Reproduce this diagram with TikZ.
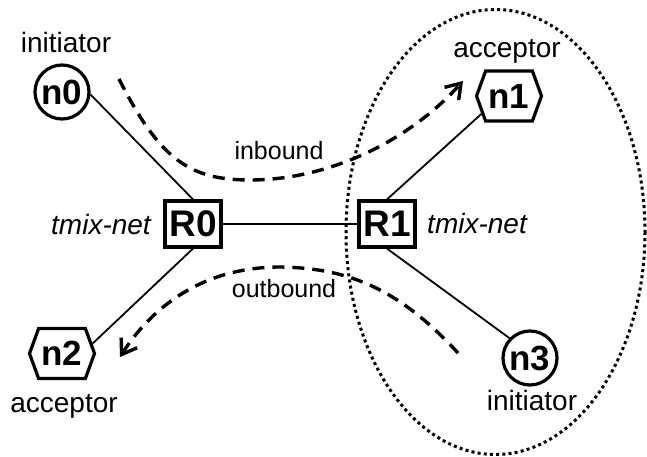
\documentclass[tikz,border=0pt]{standalone}
\usepackage{fontspec}
\setmainfont{Liberation Sans}
\usetikzlibrary{shapes.symbols,arrows.meta}
\begin{document}
\begin{tikzpicture}[x=1pt,y=-1pt,
  lbl/.style={font=\fontsize{28}{32}\selectfont, anchor=base, inner sep=0pt},
  netlbl/.style={font=\fontsize{28}{32}\selectfont\itshape, anchor=base, inner sep=0pt},
  flowlbl/.style={font=\fontsize{25}{30}\selectfont, anchor=base, inner sep=0pt},
  hostc/.style={circle, draw, line width=3.2pt, minimum size=54pt, inner sep=0pt,
    font=\fontsize{35}{38}\selectfont\bfseries},
  hosth/.style={signal, signal to=east and west, signal pointer angle=140, draw,
    line width=3.2pt, minimum width=65pt, minimum height=50pt, inner sep=0pt,
    font=\fontsize{35}{38}\selectfont\bfseries},
  router/.style={rectangle, draw, line width=3.2pt, minimum width=56pt,
    minimum height=46pt, inner sep=0pt, font=\fontsize{37}{40}\selectfont\bfseries},
  link/.style={line width=1.8pt},
  flow/.style={line width=3.4pt, dash pattern=on 12pt off 8pt,
    -{Straight Barb[length=14pt,width=19pt]}},
  dotring/.style={line width=3pt, dash pattern=on 3pt off 3.2pt}
]
\useasboundingbox (0,0) rectangle (647,457);

% dotted domain ellipse
\draw[dotring] (495.5,232) ellipse [x radius=149.5, y radius=222.5];

% nodes
\node[hostc] (n0) at (62,92) {n0};
\node[hosth] (n1) at (509,96) {n1};
\node[hosth] (n2) at (62,353.5) {n2};
\node[hostc] (n3) at (530,358) {n3};
\node[router] (R0) at (193,224) {R0};
\node[router] (R1) at (387,224) {R1};

% labels
\node[lbl] (l0) at (66,53) {initiator};
\node[lbl] (l1) at (507,58) {acceptor};
\node[lbl] (l2) at (64,412) {acceptor};
\node[lbl] (l3) at (532,410) {initiator};
\node[netlbl] (t0) at (101,234) {tmix-net};
\node[netlbl] (t1) at (477,233) {tmix-net};
\node[flowlbl] (ib) at (279,160) {inbound};
\node[flowlbl] (ob) at (284,297) {outbound};

% links
\draw[link] (n0.-5) -- (R0.north);
\draw[link] (R0.east) -- (R1.west);
\draw[link] (R1.north) -- (n1.213);
\draw[link] (R0.south) -- (n2.18);
\draw[link] (R1.south) -- (n3.136);

% flows
\coordinate (ibs) at (119,79);
\coordinate (ibm) at (250,180);
\coordinate (ibe) at (463,81);
\draw[flow] (ibs) .. controls (160,160) and (190,180) .. (ibm)
  .. controls (330,180) and (410,140) .. (ibe);
\coordinate (obs) at (458,353);
\coordinate (obm) at (280,267);
\coordinate (obe) at (120,357);
\draw[flow] (obs) .. controls (400,290) and (350,268) .. (obm)
  .. controls (200,267) and (150,310) .. (obe);
\end{tikzpicture}
\end{document}
